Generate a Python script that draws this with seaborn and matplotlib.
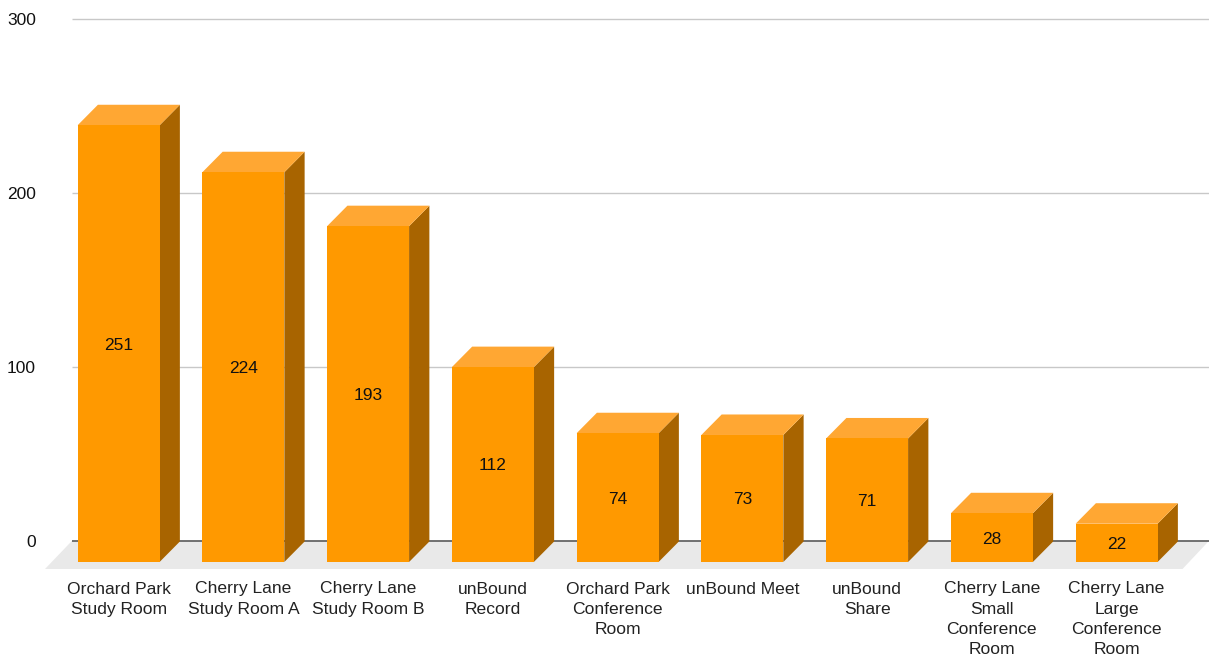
import pandas as pd
import matplotlib.pyplot as plt
from matplotlib.patches import Polygon
import seaborn as sns

rooms = ['Orchard Park\nStudy Room', 'Cherry Lane\nStudy Room A', 'Cherry Lane\nStudy Room B',
         'unBound\nRecord', 'Orchard Park\nConference\nRoom', 'unBound Meet', 'unBound\nShare',
         'Cherry Lane\nSmall\nConference\nRoom', 'Cherry Lane\nLarge\nConference\nRoom']
bookings = [251, 224, 193, 112, 74, 73, 71, 28, 22]
y_ticks = [0, 100, 200, 300]

sns.set_theme(style='white')
plt.rcParams['font.family'] = ['Liberation Sans', 'DejaVu Sans']

W, H = 1209, 656
fig = plt.figure(figsize=(W / 100, H / 100), dpi=100)

# axes run from the back wall to the front edge of the floor
left, bottom = 72, 569
ax = fig.add_axes([left / W, (H - bottom) / H, (W - left) / W, bottom / H])

df = pd.DataFrame({'room': rooms, 'bookings': bookings})
sns.barplot(data=df, x='room', y='bookings', color='#ff9900', saturation=1, width=0.657,
            linewidth=0, ax=ax, zorder=3)

px_y = 1.74      # pixels per unit
px_x = 124.75    # pixels per category
x0 = 118.6       # pixel centre of first bar
base = 562       # pixel of value 0 on the front plane
ax.set_xlim((left - x0) / px_x, (W - x0) / px_x)
ax.set_ylim((base - bottom) / px_y, base / px_y)

# fake 3d depth, in data units
dx = 20.3 / px_x
dy = 20.5 / px_y
grid_dy = 21.2 / px_y

# floor and back grid
xl, xr = ax.get_xlim()
yb = ax.get_ylim()[0]
ax.add_patch(Polygon([(xl, grid_dy), (xr, grid_dy), (xr - 26.5 / px_x, yb), (xl - 27 / px_x, yb)],
                     closed=True, fc='#e9e9e9', ec='none', zorder=0, clip_on=False))
ax.hlines([t + grid_dy for t in y_ticks[1:]], xl, xr, color='#c8c8c8', lw=1, zorder=1)
ax.hlines(grid_dy, xl, xr, color='#666666', lw=1.3, zorder=1)

# side and top faces off each bar
for bar in ax.patches:
    if bar.get_zorder() != 3:
        continue
    x1 = bar.get_x()
    x2 = x1 + bar.get_width()
    h = bar.get_height()
    ax.add_patch(Polygon([(x2, 0), (x2 + dx, dy), (x2 + dx, h + dy), (x2, h)],
                         closed=True, fc='#a86400', ec='none', zorder=2))
    ax.add_patch(Polygon([(x1, h), (x1 + dx, h + dy), (x2 + dx, h + dy), (x2, h)],
                         closed=True, fc='#ffa733', ec='none', zorder=2))

ax.bar_label(ax.containers[0], label_type='center', fontsize=12.5, color='#111111', zorder=5,
             padding=-1)

ax.set_yticks([t + grid_dy for t in y_ticks])
ax.set_yticklabels([str(t) for t in y_ticks])
ax.set_xlabel('')
ax.set_ylabel('')
ax.tick_params(axis='y', length=0, pad=25.9, labelsize=12.5, labelcolor='#111111')
ax.tick_params(axis='x', length=0, pad=9, labelsize=12.6, labelcolor='#222222')
for lab in ax.get_xticklabels():
    lab.set_linespacing(1.42)
sns.despine(ax=ax, left=True, bottom=True)

fig.savefig('out.png', dpi=100)
